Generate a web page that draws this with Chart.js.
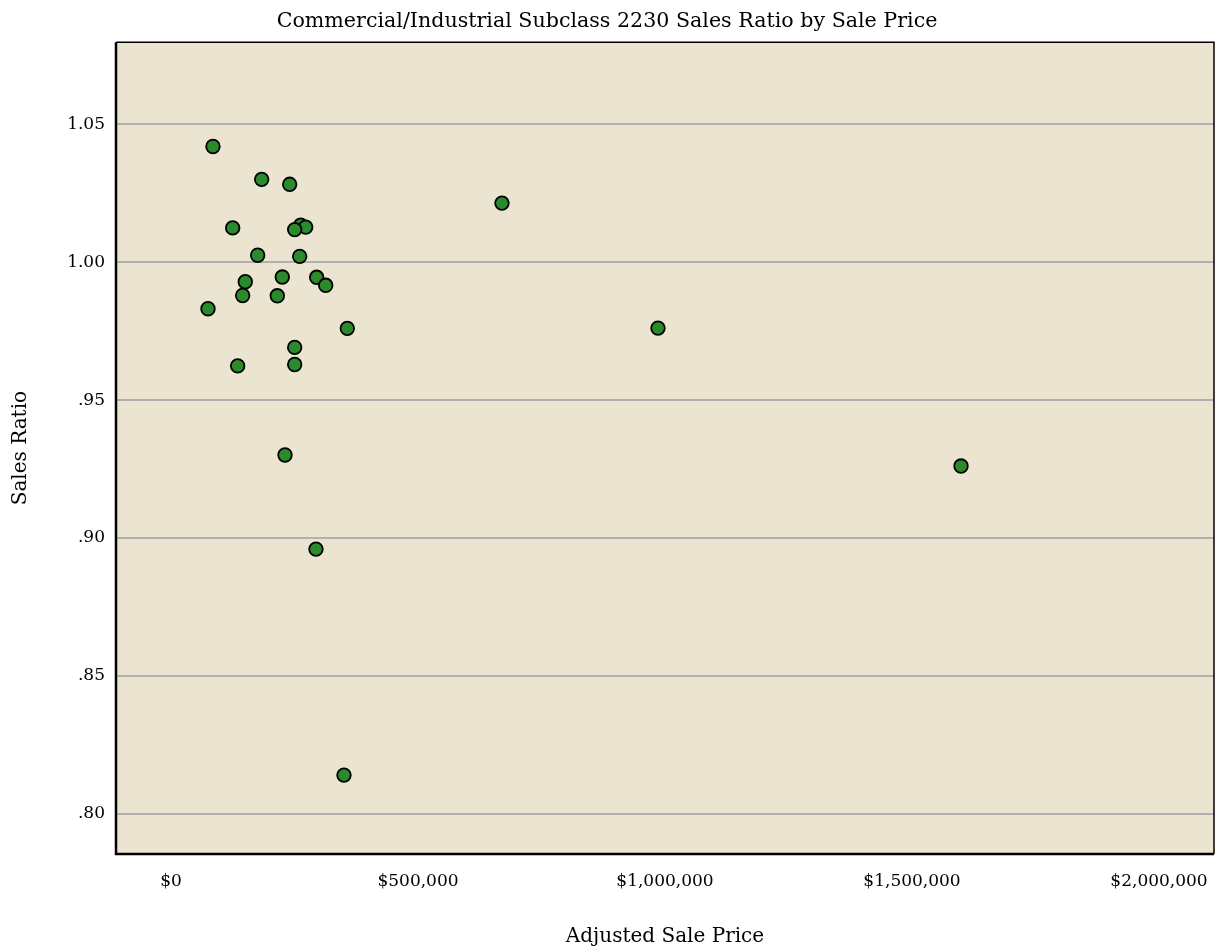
<!DOCTYPE html>
<html>
<head>
<meta charset="utf-8">
<script src="https://cdn.jsdelivr.net/npm/chart.js@4"></script>
<style>
  html, body { margin: 0; padding: 0; background: #ffffff; }
  #wrap { width: 1219px; height: 952px; }
</style>
</head>
<body>
<div id="wrap"><canvas id="ratio-chart" width="1219" height="952"></canvas></div>
<script>
// adjusted sale price ($) and sales ratio for each sale
const salePrices = [
  85000, 183600, 240300, 124900, 262500, 272700, 250400, 175500, 260500,
  150400, 225300, 294900, 313200, 145100, 215200, 74900, 356900, 250400,
  135000, 250400, 230800, 293500, 350200, 670000, 985800, 1599200
];
const salesRatios = [
  1.0419, 1.0300, 1.0282, 1.0124, 1.0134, 1.0127, 1.0118, 1.0025, 1.0021,
  0.9929, 0.9946, 0.9945, 0.9916, 0.9879, 0.9878, 0.9831, 0.9760, 0.9691,
  0.9624, 0.9629, 0.9301, 0.8960, 0.8141, 1.0214, 0.9761, 0.9261
];

const priceTicks = [0, 500000, 1000000, 1500000, 2000000];
const ratioTicks = [0.80, 0.85, 0.90, 0.95, 1.00, 1.05];

const chartTitle = 'Commercial/Industrial Subclass 2230 Sales Ratio by Sale Price';
const xTitle = 'Adjusted Sale Price';
const yTitle = 'Sales Ratio';

const serif = "'DejaVu Serif', 'Liberation Serif', serif";

function formatRatio(value) {
    const s = Number(value).toFixed(2);
    return value < 1 ? s.replace(/^0/, '') : s;
}

function formatPrice(value) {
    return '$' + Math.round(value).toLocaleString('en-US');
}

// fills the plot area and draws the frame round it
const plotFrame = {
    id: 'plotFrame',
    beforeDraw(chart) {
        const { ctx, chartArea: a } = chart;
        ctx.save();
        ctx.fillStyle = '#ebe4d1';
        ctx.fillRect(a.left, a.top, a.right - a.left, a.bottom - a.top);
        ctx.restore();
    },
    afterDatasetsDraw(chart) {
        const { ctx, chartArea: a } = chart;
        ctx.save();
        ctx.strokeStyle = '#000000';
        ctx.lineWidth = 1.5;
        ctx.beginPath();
        ctx.moveTo(a.left, a.top);
        ctx.lineTo(a.right, a.top);
        ctx.lineTo(a.right, a.bottom);
        ctx.stroke();
        ctx.lineWidth = 2.5;
        ctx.beginPath();
        ctx.moveTo(a.left, a.top);
        ctx.lineTo(a.left, a.bottom);
        ctx.lineTo(a.right, a.bottom);
        ctx.stroke();
        ctx.restore();
    }
};

new Chart(document.getElementById('ratio-chart').getContext('2d'), {
    type: 'scatter',
    data: {
        datasets: [{
            label: yTitle,
            data: salePrices.map((price, i) => ({ x: price, y: salesRatios[i] })),
            backgroundColor: '#2b8a2b',
            borderColor: '#000000',
            borderWidth: 1.8,
            pointRadius: 6.8,
            pointHoverRadius: 6.8
        }]
    },
    plugins: [plotFrame],
    options: {
        responsive: false,
        animation: false,
        layout: { autoPadding: false, padding: { left: 0, right: 5, top: 0, bottom: 0 } },
        plugins: {
            legend: { display: false },
            tooltip: { enabled: false },
            title: {
                display: true,
                text: chartTitle,
                color: '#000000',
                font: { family: serif, size: 20.6, weight: 'normal', lineHeight: 1.2 },
                padding: { top: 9, bottom: 8.5 }
            }
        },
        scales: {
            x: {
                type: 'linear',
                min: -111300,
                max: 2111300,
                afterFit(scale) {
                    scale.height = 98;
                    scale.paddingLeft = 0;
                    scale.paddingRight = 0;
                },
                afterBuildTicks(scale) { scale.ticks = priceTicks.map(v => ({ value: v })); },
                grid: { display: false, drawTicks: false },
                border: { display: false },
                ticks: {
                    autoSkip: false,
                    maxRotation: 0,
                    padding: 17,
                    color: '#000000',
                    font: { family: serif, size: 17 },
                    callback: formatPrice
                },
                title: {
                    display: true,
                    text: xTitle,
                    color: '#000000',
                    font: { family: serif, size: 20, lineHeight: 1.2 },
                    padding: { top: 0, bottom: 3 }
                }
            },
            y: {
                type: 'linear',
                min: 0.7855,
                max: 1.0797,
                afterFit(scale) {
                    scale.width = 116;
                    scale.paddingTop = 0;
                    scale.paddingBottom = 0;
                },
                afterBuildTicks(scale) { scale.ticks = ratioTicks.map(v => ({ value: v })); },
                grid: { color: '#b0b0b0', lineWidth: 2, drawTicks: false },
                border: { display: false },
                ticks: {
                    autoSkip: false,
                    padding: 11,
                    color: '#000000',
                    font: { family: serif, size: 17 },
                    callback: formatRatio
                },
                title: {
                    display: true,
                    text: yTitle,
                    color: '#000000',
                    font: { family: serif, size: 20, lineHeight: 1.2 },
                    padding: { top: 9, bottom: 0 }
                }
            }
        }
    }
});
</script>
</body>
</html>
